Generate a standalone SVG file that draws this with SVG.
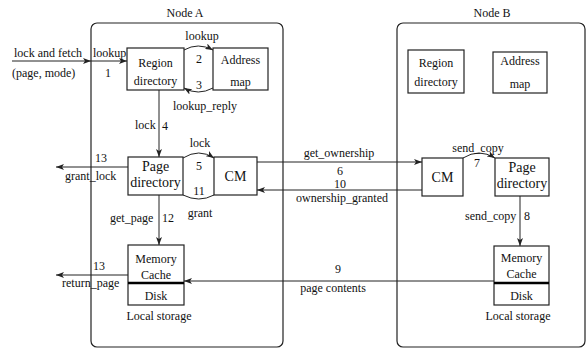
<svg xmlns="http://www.w3.org/2000/svg" width="588" height="349" viewBox="0 0 588 349" font-family="'Liberation Serif', 'Times New Roman', Times, serif">
<defs>
<marker id="ah" viewBox="0 0 8 6" refX="8" refY="3" markerWidth="8" markerHeight="6" markerUnits="userSpaceOnUse" orient="auto">
<path d="M0,0 L8,3 L0,6 L2,3 Z" fill="#222"/>
</marker>
</defs>
<style>
text{font-family:'Liberation Serif','Times New Roman',Times,serif;font-size:12px;fill:#111}
.m{text-anchor:middle}
.big{font-size:14px}
.box{fill:#fff;stroke:#222;stroke-width:1.2}
.node{fill:none;stroke:#222;stroke-width:1.2}
.c{fill:none;stroke:#222;stroke-width:1}
.a{marker-end:url(#ah)}
.div{stroke:#000;stroke-width:2.5}
</style>
<rect width="588" height="349" fill="#fff"/>

<g id="nodeA">
<rect class="node" x="91" y="23" width="192" height="324" rx="6"/>
<text class="m" x="185" y="17">Node A</text>
</g>
<g id="nodeB">
<rect class="node" x="397" y="23" width="188" height="324" rx="6"/>
<text class="m" x="492" y="17">Node B</text>
</g>

<g id="regionA">
<rect class="box" x="127" y="48" width="57" height="42"/>
<text class="m" x="155.5" y="67">Region</text>
<text class="m" x="155.5" y="85">directory</text>
</g>
<g id="addrA">
<rect class="box" x="213" y="48" width="55" height="42"/>
<text class="m" x="240.5" y="64">Address</text>
<text class="m" x="240.5" y="86">map</text>
</g>
<g id="pagedirA">
<rect class="box" x="128" y="157" width="55" height="38"/>
<text class="m big" x="155.5" y="171">Page</text>
<text class="m big" x="155.5" y="187">directory</text>
</g>
<g id="cmA">
<rect class="box" x="214" y="157" width="43" height="38"/>
<text class="m big" x="235.5" y="181">CM</text>
</g>
<g id="storageA">
<rect class="box" x="128" y="245" width="56" height="60"/>
<line class="div" x1="128" y1="283" x2="184" y2="283"/>
<text class="m" x="156" y="263">Memory</text>
<text class="m" x="156" y="279">Cache</text>
<text class="m" x="156" y="300">Disk</text>
<text class="m" x="159" y="320">Local storage</text>
</g>

<g id="regionB">
<rect class="box" x="408" y="50" width="56" height="43"/>
<text class="m" x="436" y="67">Region</text>
<text class="m" x="436" y="86">directory</text>
</g>
<g id="addrB">
<rect class="box" x="493" y="52" width="54" height="41"/>
<text class="m" x="520" y="65">Address</text>
<text class="m" x="520" y="88">map</text>
</g>
<g id="cmB">
<rect class="box" x="422" y="158" width="41" height="38"/>
<text class="m big" x="442.5" y="182">CM</text>
</g>
<g id="pagedirB">
<rect class="box" x="495" y="158" width="54" height="38"/>
<text class="m big" x="522" y="172">Page</text>
<text class="m big" x="522" y="188">directory</text>
</g>
<g id="storageB">
<rect class="box" x="494" y="246" width="55" height="59"/>
<line class="div" x1="494" y1="283" x2="549" y2="283"/>
<text class="m" x="521.5" y="262">Memory</text>
<text class="m" x="521.5" y="278">Cache</text>
<text class="m" x="521.5" y="300">Disk</text>
<text class="m" x="518" y="320">Local storage</text>
</g>

<g id="connectors">
<line class="c a" x1="12" y1="61" x2="91" y2="61"/>
<line class="c a" x1="91" y1="61" x2="127" y2="61"/>
<path class="c a" d="M184,50 Q198,42 213,50"/>
<path class="c a" d="M213,88 Q198,96 184,88"/>
<line class="c a" x1="159" y1="90" x2="159" y2="157"/>
<path class="c a" d="M183,158 Q199,148 214,158"/>
<path class="c" d="M214,195 Q199,203 183,195"/>
<line class="c a" x1="128" y1="167" x2="56" y2="167"/>
<line class="c a" x1="257" y1="162" x2="422" y2="162"/>
<line class="c a" x1="422" y1="190" x2="257" y2="190"/>
<path class="c a" d="M463,158 Q479,148 495,158"/>
<line class="c a" x1="520" y1="196" x2="520" y2="246"/>
<line class="c a" x1="159" y1="195" x2="159" y2="245"/>
<line class="c a" x1="494" y1="281" x2="184" y2="281"/>
<line class="c a" x1="128" y1="275" x2="56" y2="275"/>
</g>

<g id="labels">
<text x="14" y="57">lock and fetch</text>
<text x="12" y="77">(page, mode)</text>
<text x="93" y="57">lookup</text>
<text class="m" x="108" y="77">1</text>
<text class="m" x="202" y="40">lookup</text>
<text class="m" x="199" y="63">2</text>
<text class="m" x="199" y="89">3</text>
<text class="m" x="205" y="110">lookup_reply</text>
<text x="135" y="129">lock</text>
<text x="162" y="130">4</text>
<text class="m" x="200" y="147">lock</text>
<text class="m" x="199" y="170">5</text>
<text class="m" x="199" y="195">11</text>
<text class="m" x="200" y="217">grant</text>
<text class="m" x="101" y="162">13</text>
<text x="65" y="180">grant_lock</text>
<text x="110" y="222">get_page</text>
<text x="162" y="222">12</text>
<text class="m" x="339" y="157">get_ownership</text>
<text class="m" x="340" y="175">6</text>
<text class="m" x="340" y="188">10</text>
<text class="m" x="342" y="202">ownership_granted</text>
<text class="m" x="478" y="152">send_copy</text>
<text class="m" x="477" y="167">7</text>
<text x="465" y="220">send_copy</text>
<text x="524" y="220">8</text>
<text class="m" x="338" y="273">9</text>
<text class="m" x="333" y="292">page contents</text>
<text class="m" x="99" y="270">13</text>
<text x="62" y="287">return_page</text>
</g>
</svg>
